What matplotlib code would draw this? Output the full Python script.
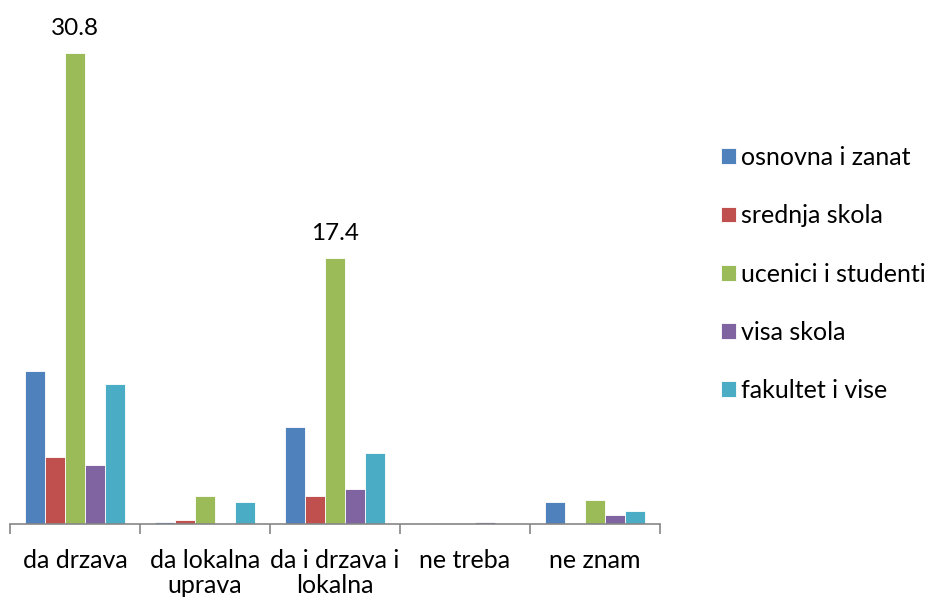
import matplotlib
matplotlib.use("Agg")
import matplotlib.pyplot as plt
import numpy as np

categories = ["da drzava", "da lokalna\nuprava", "da i drzava i\nlokalna", "ne treba", "ne znam"]
series_names = ["osnovna i zanat", "srednja skola", "ucenici i studenti", "visa skola", "fakultet i vise"]
osnovna = [10.0, 0.13, 6.35, 0.0, 1.42]
srednja = [4.35, 0.24, 1.81, 0.05, 0.0]
ucenici = [30.8, 1.83, 17.4, 0.03, 1.53]
visa = [3.82, 0.0, 2.25, 0.11, 0.55]
fakultet = [9.14, 1.42, 4.63, 0.0, 0.83]
labeled = {2: [0, 2]}  # series index -> category indices with value labels

series = [osnovna, srednja, ucenici, visa, fakultet]
colors = ["#4F81BD", "#C0504D", "#9BBB59", "#8064A2", "#4BACC6"]

plt.rcParams['font.family'] = ['Lato', 'DejaVu Sans']

W, H = 929, 604
fig = plt.figure(figsize=(W / 100, H / 100), dpi=100)
x0, x1 = 10, 660
yb, yt = 523.7, 53
ax = fig.add_axes([x0 / W, 1 - yb / H, (x1 - x0) / W, (yb - yt) / H])

n = len(categories)
centers = np.arange(n) + 0.5
bw = 20 / 130
for i, (vals, name, c) in enumerate(zip(series, series_names, colors)):
    xs = centers + (i - 2) * bw
    ax.bar(xs, vals, width=bw, color=c, edgecolor="white", linewidth=0.6, label=name)
    if i in labeled:
        for j in labeled[i]:
            ax.annotate(f"{vals[j]:.1f}", (xs[j], vals[j]), xytext=(0, 10),
                        textcoords="offset points", ha="center", va="bottom",
                        fontsize=17.5, color="black", annotation_clip=False)

ax.set_xlim(0, n)
ax.set_ylim(0, 30.8)
for s in ["top", "right", "left"]:
    ax.spines[s].set_visible(False)
ax.spines["bottom"].set_color("#868686")
ax.spines["bottom"].set_linewidth(1.2)
ax.set_yticks([])
ax.set_xticks(centers)
ax.set_xticklabels(categories, fontsize=18, linespacing=1.13)
ax.tick_params(axis="x", which="major", length=0, pad=18)
ax.set_xticks(np.arange(n + 1), minor=True)
ax.tick_params(axis="x", which="minor", length=7, width=1.2, color="#868686", direction="out")

leg = fig.legend(loc="center left", bbox_to_anchor=(721 / W, 1 - 274 / H), frameon=False,
                 fontsize=18, handlelength=0.6, handleheight=0.6, handletextpad=0.22,
                 labelspacing=1.41, borderpad=0, borderaxespad=0)

fig.savefig("out.png", dpi=100)
